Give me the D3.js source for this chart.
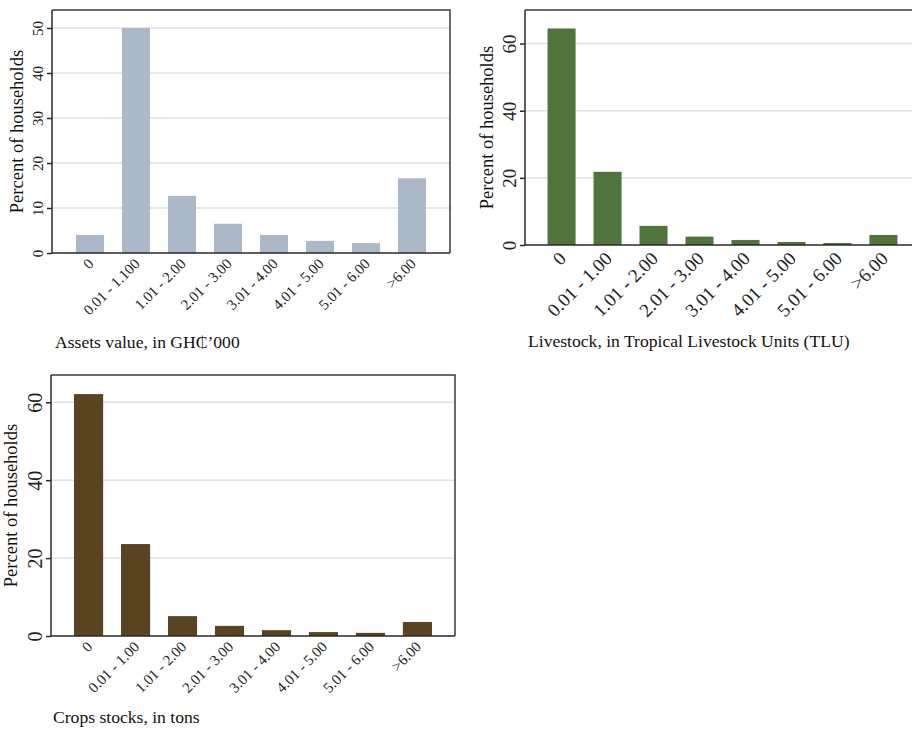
<!DOCTYPE html>
<html>
<head>
<meta charset="utf-8">
<script src="https://cdn.jsdelivr.net/npm/d3@7"></script>
<style>
  html, body { margin: 0; padding: 0; background: #fff; }
  svg { display: block; font-family: "Liberation Serif", "Times New Roman", serif; }
</style>
</head>
<body>
<div id="chart"></div>
<script>
// Category labels (x axis)
const assetCategories = ["0", "0.01 - 1.100", "1.01 - 2.00", "2.01 - 3.00", "3.01 - 4.00", "4.01 - 5.00", "5.01 - 6.00", ">6.00"];
const stockCategories = ["0", "0.01 - 1.00", "1.01 - 2.00", "2.01 - 3.00", "3.01 - 4.00", "4.01 - 5.00", "5.01 - 6.00", ">6.00"];

// Percent of households per class
const assetsPercent = [4.0, 50.0, 12.7, 6.5, 4.0, 2.7, 2.2, 16.6];
const livestockPercent = [64.5, 21.8, 5.7, 2.5, 1.5, 0.9, 0.6, 3.0];
const cropsPercent = [62.1, 23.6, 5.1, 2.6, 1.5, 1.0, 0.8, 3.6];

// Y tick values
const assetsTicks = [0, 10, 20, 30, 40, 50];
const livestockTicks = [0, 20, 40, 60];
const cropsTicks = [0, 20, 40, 60];

// Titles
const yTitle = "Percent of households";
const assetsTitle = "Assets value, in GH\u20B5\u2019000";
const livestockTitle = "Livestock, in Tropical Livestock Units (TLU)";
const cropsTitle = "Crops stocks, in tons";

const W = 912, H = 729;
const FONT = '"Liberation Serif", "Times New Roman", serif';

const svg = d3.select("#chart")
  .append("svg")
  .attr("width", W)
  .attr("height", H);

// panel layout: box in page pixels + styling per panel
const panels = [
  {
    cats: assetCategories, values: assetsPercent, ticks: assetsTicks, yMax: 54,
    title: assetsTitle, color: "#aab8c7",
    left: 52, top: 10, right: 450, bottom: 253, padIn: 0.39, padOut: 0.52,
    yTickSize: 15, xTickSize: 15, yTitleSize: 18.5, xTitleSize: 17.6,
    yTitleX: 23, xTitleX: 55, xTitleY: 348, labelDy: 8,
  },
  {
    cats: stockCategories, values: livestockPercent, ticks: livestockTicks, yMax: 70,
    title: livestockTitle, color: "#51733c",
    left: 525, top: 10, right: 920, bottom: 245, padIn: 0.39, padOut: 0.49,
    yTickSize: 19, xTickSize: 19, yTitleSize: 18.5, xTitleSize: 17.6,
    yTitleX: 493, xTitleX: 528, xTitleY: 347, labelDy: 10,
  },
  {
    cats: stockCategories, values: cropsPercent, ticks: cropsTicks, yMax: 67,
    title: cropsTitle, color: "#5a4321",
    left: 51, top: 375, right: 455, bottom: 636, padIn: 0.38, padOut: 0.49,
    yTickSize: 20, xTickSize: 15, yTitleSize: 18.5, xTitleSize: 17.6,
    yTitleX: 17, xTitleX: 53, xTitleY: 723, labelDy: 8,
  },
];

panels.forEach(drawPanel);

function drawPanel(p) {
  const x = d3.scaleBand()
    .domain(p.cats)
    .range([p.left, p.right])
    .paddingInner(p.padIn)
    .paddingOuter(p.padOut);

  const y = d3.scaleLinear()
    .domain([0, p.yMax])
    .range([p.bottom, p.top]);

  const g = svg.append("g");

  // grid lines
  g.append("g")
    .selectAll("line")
    .data(p.ticks.filter((d) => d > 0))
    .join("line")
    .attr("x1", p.left)
    .attr("x2", p.right)
    .attr("y1", (d) => y(d))
    .attr("y2", (d) => y(d))
    .attr("stroke", "#e1e1e1")
    .attr("stroke-width", 1.5);

  // bars
  g.append("g")
    .selectAll("rect")
    .data(p.values)
    .join("rect")
    .attr("x", (d, i) => x(p.cats[i]))
    .attr("y", (d) => y(d))
    .attr("width", x.bandwidth())
    .attr("height", (d) => y(0) - y(d))
    .attr("fill", p.color);

  // frame: top and right
  g.append("path")
    .attr("d", `M${p.left},${p.top}H${p.right}V${p.bottom}`)
    .attr("fill", "none")
    .attr("stroke", "#3a3a3a")
    .attr("stroke-width", 1.5);

  // y axis
  const yAxis = g.append("g")
    .attr("transform", `translate(${p.left},0)`)
    .attr("font-family", FONT)
    .call(d3.axisLeft(y).tickValues(p.ticks).tickSize(5).tickSizeOuter(0));
  yAxis.attr("font-family", FONT);
  yAxis.select(".domain")
    .attr("d", `M0,${p.top}V${p.bottom}`)
    .attr("stroke", "#2a2a2a")
    .attr("stroke-width", 1.5);
  yAxis.selectAll(".tick line").attr("stroke", "#2a2a2a").attr("stroke-width", 1.5);
  yAxis.selectAll(".tick text")
    .attr("transform", "rotate(-90)")
    .attr("x", 0)
    .attr("y", -9)
    .attr("dy", 0)
    .attr("text-anchor", "middle")
    .attr("fill", "#222")
    .style("font-family", FONT)
    .style("font-size", p.yTickSize + "px");

  // x axis
  const xAxis = g.append("g")
    .attr("transform", `translate(0,${p.bottom})`)
    .call(d3.axisBottom(x).tickSize(0).tickSizeOuter(0));
  xAxis.attr("font-family", FONT);
  xAxis.select(".domain")
    .attr("d", `M${p.left},0H${p.right}`)
    .attr("stroke", "#2a2a2a")
    .attr("stroke-width", 1.5);
  xAxis.selectAll(".tick text")
    .attr("x", 0)
    .attr("y", 0)
    .attr("dy", "0.35em")
    .attr("transform", `translate(1,${p.labelDy}) rotate(-45)`)
    .attr("text-anchor", "end")
    .attr("fill", "#222")
    .style("font-family", FONT)
    .style("font-size", p.xTickSize + "px");

  // y title
  g.append("text")
    .attr("transform", `translate(${p.yTitleX},${(p.top + p.bottom) / 2}) rotate(-90)`)
    .attr("text-anchor", "middle")
    .attr("fill", "#111")
    .style("font-size", p.yTitleSize + "px")
    .text(yTitle);

  // x title
  g.append("text")
    .attr("x", p.xTitleX)
    .attr("y", p.xTitleY)
    .attr("fill", "#111")
    .style("font-size", p.xTitleSize + "px")
    .text(p.title);
}
</script>
</body>
</html>
